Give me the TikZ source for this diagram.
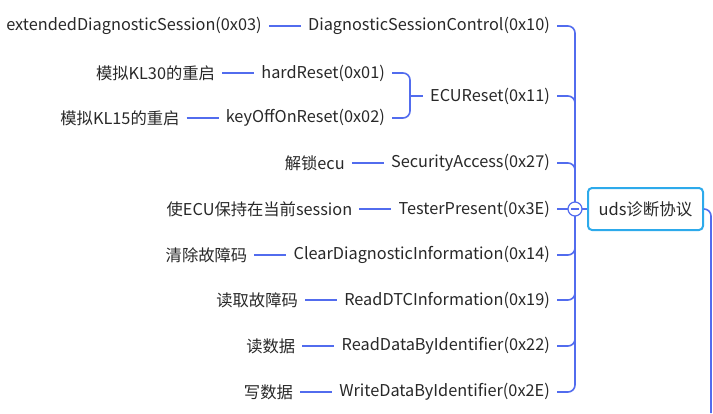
\documentclass[tikz,border=0pt]{standalone}
\usepackage{fontspec}
\setmainfont{Noto Sans CJK SC}
\usetikzlibrary{positioning}
\definecolor{branchblue}{RGB}{82,108,238}
\definecolor{rootcyan}{RGB}{45,170,235}
\definecolor{textgray}{RGB}{40,40,40}
\tikzset{
  item/.style = {inner xsep=7pt, inner ysep=2pt, text=textgray, font=\fontsize{16.3}{18}\selectfont},
  link/.style = {draw=branchblue, line width=1.6pt},
  spine/.style = {link, rounded corners=7pt},
  root/.style = {draw=rootcyan, line width=2pt, rounded corners=4pt, fill=white,
                 minimum width=115pt, minimum height=42pt, text=textgray,
                 font=\fontsize{16.5}{18}\selectfont}
}

\begin{document}
\begin{tikzpicture}[x=1pt, y=-1pt, node distance=32pt]
    \useasboundingbox (0,0) rectangle (713,413);

    % the root and the collapse button
    \node [root] (uds) at (645.5,209) {uds诊断协议};
    \coordinate (hub) at (575,209);
    \coordinate (offpage) at (711,413);

    % first level
    \node [item, anchor=east] (dsc) at (557,26)  {DiagnosticSessionControl(0x10)};
    \node [item, anchor=east] (ecu) at (557,96)  {ECUReset(0x11)};
    \node [item, anchor=east] (sa)  at (557,163) {SecurityAccess(0x27)};
    \node [item, anchor=east] (tp)  at (557,209) {TesterPresent(0x3E)};
    \node [item, anchor=east] (cdi) at (557,255) {ClearDiagnosticInformation(0x14)};
    \node [item, anchor=east] (rdi) at (557,300) {ReadDTCInformation(0x19)};
    \node [item, anchor=east] (rdb) at (557,346) {ReadDataByIdentifier(0x22)};
    \node [item, anchor=east] (wdb) at (557,392) {WriteDataByIdentifier(0x2E)};

    % second level
    \node [item, left=of dsc] (eds) {extendedDiagnosticSession(0x03)};
    \node [item, anchor=east] (hr)  at (392,73)  {hardReset(0x01)};
    \node [item, anchor=east] (kor) at (392,118) {keyOffOnReset(0x02)};
    \coordinate (ecubrace) at (410,96);
    \node [item, left=of sa]  (unlock) {解锁ecu};
    \node [item, left=of tp]  (keep)   {使ECU保持在当前session};
    \node [item, left=of cdi] (clear)  {清除故障码};
    \node [item, left=of rdi] (readdtc){读取故障码};
    \node [item, left=of rdb] (read)   {读数据};
    \node [item, left=of wdb] (write)  {写数据};

    % third level
    \node [item, left=of hr]  (kl30) {模拟KL30的重启};
    \node [item, left=of kor] (kl15) {模拟KL15的重启};

    % spine
    \foreach \n in {dsc, ecu, sa, tp, cdi, rdi, rdb, wdb}
        \draw [spine] (\n.east) -| (hub);
    \draw [link] (hub) -- (uds.west);
    \draw [spine] (uds.east) -| (offpage);

    % ECUReset brace
    \draw [spine] (hr.east) -| (ecubrace);
    \draw [spine] (kor.east) -| (ecubrace);
    \draw [link] (ecubrace) -- (ecu.west);

    % leaves
    \draw [link] (eds) -- (dsc);
    \draw [link] (kl30) -- (hr);
    \draw [link] (kl15) -- (kor);
    \draw [link] (unlock) -- (sa);
    \draw [link] (keep) -- (tp);
    \draw [link] (clear) -- (cdi);
    \draw [link] (readdtc) -- (rdi);
    \draw [link] (read) -- (rdb);
    \draw [link] (write) -- (wdb);

    % collapse button
    \draw [draw=branchblue, line width=1.2pt, fill=white] (hub) circle (7pt);
    \draw [draw=branchblue, line width=1.2pt] ([xshift=-4pt]hub) -- ([xshift=4pt]hub);
\end{tikzpicture}
\end{document}
